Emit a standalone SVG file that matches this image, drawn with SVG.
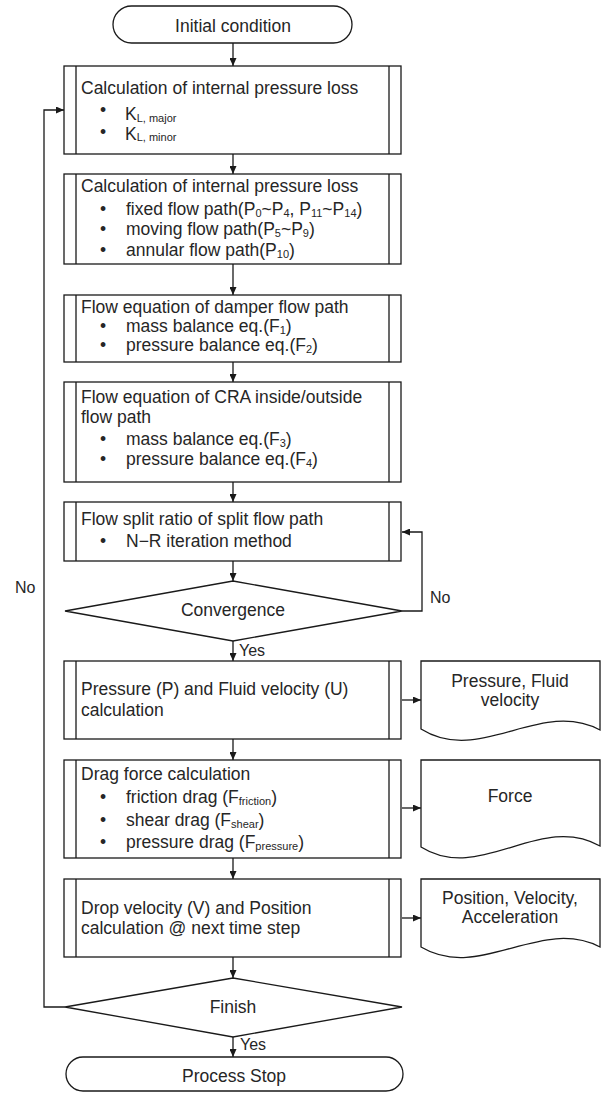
<svg xmlns="http://www.w3.org/2000/svg" width="603" height="1093" viewBox="0 0 603 1093">
<style>
text{font-family:"Liberation Sans",Arial,sans-serif;font-size:17.5px;fill:#262626}
.c{text-anchor:middle}
.s{font-size:11px}
.yn{font-size:16px}
.sh{fill:#fff;stroke:#1a1a1a;stroke-width:1.3}
.ln{fill:none;stroke:#1a1a1a;stroke-width:1.3}
.cn{fill:none;stroke:#1a1a1a;stroke-width:1.3;marker-end:url(#ah)}
</style>
<defs>
<marker id="ah" markerUnits="userSpaceOnUse" markerWidth="8" markerHeight="7" refX="8" refY="3.5" orient="auto">
<path d="M0,0 L8,3.5 L0,7 z" fill="#1a1a1a"/>
</marker>
</defs>
<rect width="603" height="1093" fill="#fff"/>

<g id="connectors">
<path class="cn" d="M233,43 V66"/>
<path class="cn" d="M233,154 V174"/>
<path class="cn" d="M233,264 V295"/>
<path class="cn" d="M233,362 V382"/>
<path class="cn" d="M233,482 V502"/>
<path class="cn" d="M233,561 V581"/>
<path class="cn" d="M233,641 V661"/>
<path class="cn" d="M233,739 V760"/>
<path class="cn" d="M233,858 V879"/>
<path class="cn" d="M233,957 V978"/>
<path class="cn" d="M233,1037 V1057"/>
<path class="cn" d="M402,700 H421"/>
<path class="cn" d="M402,808 H421"/>
<path class="cn" d="M402,918 H421"/>
<path class="cn" d="M402,611 H422 V532 H402"/>
<path class="cn" d="M65,1007 H44 V110 H64"/>
<text x="430" y="603" class="yn">No</text>
<text x="15" y="593" class="yn">No</text>
<text x="239" y="656" class="yn">Yes</text>
<text x="240" y="1050" class="yn">Yes</text>
</g>

<g id="start">
<rect class="sh" x="113" y="6" width="239" height="37" rx="18.5"/>
<text x="233" y="31.5" class="c">Initial condition</text>
</g>

<g id="box1">
<rect class="sh" x="64" y="66" width="337" height="88"/>
<path class="ln" d="M76,66 V154 M389,66 V154"/>
<text x="81" y="94">Calculation of internal pressure loss</text>
<text x="100" y="116">•</text>
<text x="100" y="137.5">•</text>
<text x="125" y="120">K<tspan class="s" dy="1.5">L, major</tspan></text>
<text x="125" y="139.5">K<tspan class="s" dy="1.5">L, minor</tspan></text>
</g>

<g id="box2">
<rect class="sh" x="64" y="174" width="337" height="90"/>
<path class="ln" d="M76,174 V264 M389,174 V264"/>
<text x="81" y="192">Calculation of internal pressure loss</text>
<text x="100" y="215">•</text>
<text x="100" y="235">•</text>
<text x="100" y="256">•</text>
<text x="126" y="215">fixed flow path(P<tspan class="s" dy="2">0</tspan><tspan dy="-2">~P</tspan><tspan class="s" dy="2">4</tspan><tspan dy="-2">, P</tspan><tspan class="s" dy="2">11</tspan><tspan dy="-2">~P</tspan><tspan class="s" dy="2">14</tspan><tspan dy="-2">)</tspan></text>
<text x="126" y="235">moving flow path(P<tspan class="s" dy="2">5</tspan><tspan dy="-2">~P</tspan><tspan class="s" dy="2">9</tspan><tspan dy="-2">)</tspan></text>
<text x="126" y="256">annular flow path(P<tspan class="s" dy="2">10</tspan><tspan dy="-2">)</tspan></text>
</g>

<g id="box3">
<rect class="sh" x="64" y="295" width="337" height="67"/>
<path class="ln" d="M76,295 V362 M389,295 V362"/>
<text x="81" y="313">Flow equation of damper flow path</text>
<text x="100" y="332">•</text>
<text x="100" y="350.5">•</text>
<text x="126" y="332">mass balance eq.(F<tspan class="s" dy="2">1</tspan><tspan dy="-2">)</tspan></text>
<text x="126" y="350.5">pressure balance eq.(F<tspan class="s" dy="2">2</tspan><tspan dy="-2">)</tspan></text>
</g>

<g id="box4">
<rect class="sh" x="64" y="382" width="337" height="100"/>
<path class="ln" d="M76,382 V482 M389,382 V482"/>
<text x="81" y="403">Flow equation of CRA inside/outside</text>
<text x="81" y="423">flow path</text>
<text x="100" y="445">•</text>
<text x="100" y="465">•</text>
<text x="126" y="445">mass balance eq.(F<tspan class="s" dy="2">3</tspan><tspan dy="-2">)</tspan></text>
<text x="126" y="465">pressure balance eq.(F<tspan class="s" dy="2">4</tspan><tspan dy="-2">)</tspan></text>
</g>

<g id="box5">
<rect class="sh" x="64" y="502" width="337" height="59"/>
<path class="ln" d="M76,502 V561 M389,502 V561"/>
<text x="81" y="525">Flow split ratio of split flow path</text>
<text x="100" y="547">•</text>
<text x="126" y="547">N−R iteration method</text>
</g>

<g id="convergence">
<path class="sh" d="M233,581 L402,611 L233,641 L65,611 Z"/>
<text x="233" y="616" class="c">Convergence</text>
</g>

<g id="box6">
<rect class="sh" x="64" y="661" width="337" height="78"/>
<path class="ln" d="M76,661 V739 M389,661 V739"/>
<text x="81" y="695">Pressure (P) and Fluid velocity (U)</text>
<text x="81" y="716">calculation</text>
</g>

<g id="doc1">
<path class="sh" d="M421,661 H600 V730 C540,698 480,766 421,729 Z"/>
<text x="510" y="687" class="c">Pressure, Fluid</text>
<text x="510" y="706" class="c">velocity</text>
</g>

<g id="box7">
<rect class="sh" x="64" y="760" width="337" height="98"/>
<path class="ln" d="M76,760 V858 M389,760 V858"/>
<text x="81" y="780">Drag force calculation</text>
<text x="100" y="803">•</text>
<text x="100" y="826">•</text>
<text x="100" y="848">•</text>
<text x="126" y="803">friction drag (F<tspan class="s" dy="2">friction</tspan><tspan dy="-2">)</tspan></text>
<text x="126" y="826">shear drag (F<tspan class="s" dy="2">shear</tspan><tspan dy="-2">)</tspan></text>
<text x="126" y="848">pressure drag (F<tspan class="s" dy="2">pressure</tspan><tspan dy="-2">)</tspan></text>
</g>

<g id="doc2">
<path class="sh" d="M421,760 H600 V846 C540,812 480,884 421,847 Z"/>
<text x="510" y="802" class="c">Force</text>
</g>

<g id="box8">
<rect class="sh" x="64" y="879" width="337" height="78"/>
<path class="ln" d="M76,879 V957 M389,879 V957"/>
<text x="81" y="914">Drop velocity (V) and Position</text>
<text x="81" y="934">calculation @ next time step</text>
</g>

<g id="doc3">
<path class="sh" d="M421,879 H600 V947 C540,916 480,982 421,947 Z"/>
<text x="510" y="904" class="c">Position, Velocity,</text>
<text x="510" y="923" class="c">Acceleration</text>
</g>

<g id="finish">
<path class="sh" d="M233,978 L402,1007 L233,1037 L65,1007 Z"/>
<text x="233" y="1013" class="c">Finish</text>
</g>

<g id="stop">
<rect class="sh" x="66" y="1057" width="337" height="34" rx="17"/>
<text x="234" y="1082" class="c">Process Stop</text>
</g>
</svg>
